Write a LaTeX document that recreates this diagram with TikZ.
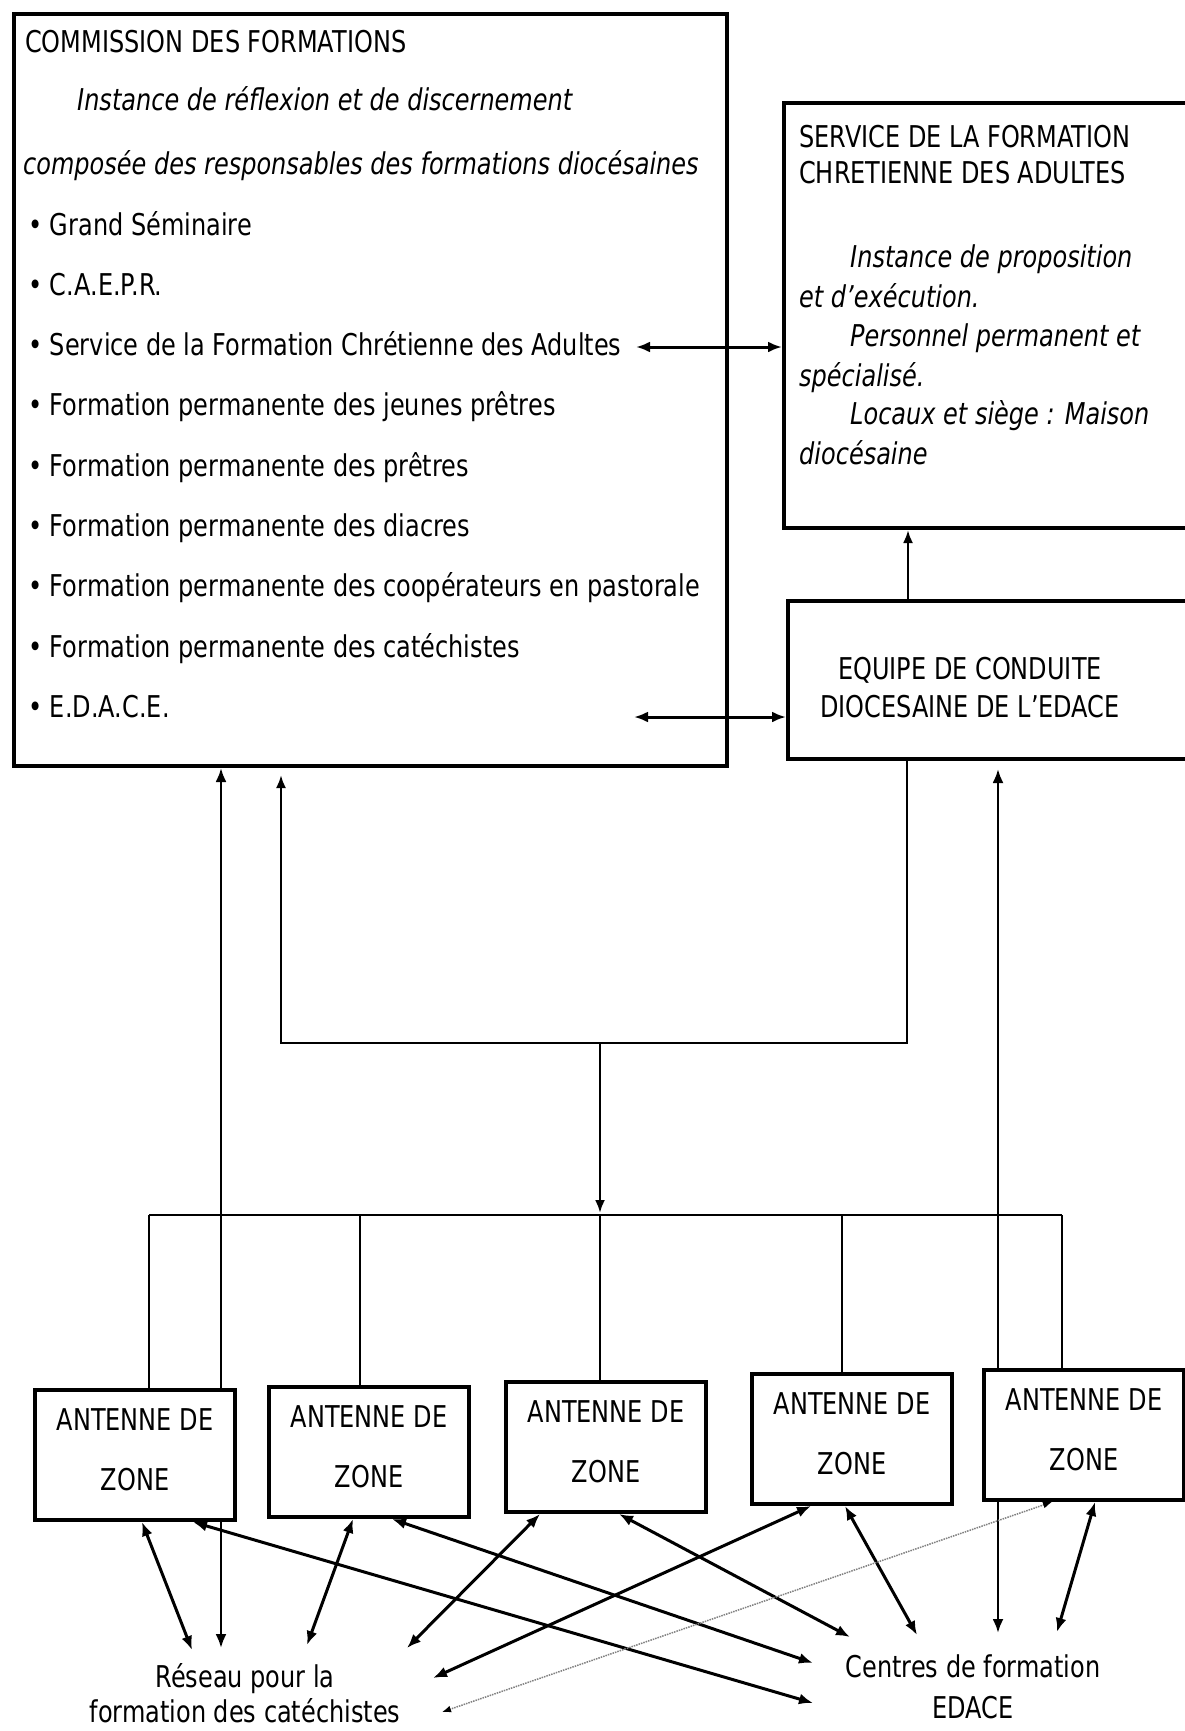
\documentclass[tikz,border=0pt]{standalone}
\usepackage{fontspec}
\setmainfont{DejaVu Sans}[FakeStretch=0.80]
\usetikzlibrary{arrows.meta,positioning,backgrounds}

\newcommand\fsz{\fontsize{30}{36}\selectfont}

\tikzset{
  box/.style={draw, line width=4pt, fill=white, anchor=north west, inner sep=0pt},
  zbox/.style={box, minimum width=200pt, minimum height=130pt, align=center,
    font=\fontsize{30}{60}\selectfont, text depth=11pt},
  txt/.style={anchor=base west, inner sep=0pt, font=\fsz},
  itxt/.style={txt, font=\fsz\itshape},
  lnk/.style={line width=2.5pt},
  dlnk/.style={line width=3pt},
  arr/.style={-{Latex[length=13pt,width=10pt]}},
  darr/.style={{Latex[length=14pt,width=11pt]}-{Latex[length=14pt,width=11pt]}},
}

\begin{document}
\begin{tikzpicture}[x=1pt,y=-1pt]
\useasboundingbox (0,0) rectangle (1185,1731);

% boxes
\node[box, minimum width=713pt, minimum height=752pt] (cf) at (12,12) {};
\node[box, minimum width=409pt, minimum height=425pt] (sfca) at (782,101) {};
\node[box, minimum width=405pt, minimum height=158pt] (eq) at (786,599) {};

\node[zbox] (a1) at (33,1388) {ANTENNE DE\\ZONE};
\node[zbox] (a2) at (267,1385) {ANTENNE DE\\ZONE};
\node[zbox] (a3) at (504,1380) {ANTENNE DE\\ZONE};
\node[zbox] (a4) at (750,1372) {ANTENNE DE\\ZONE};
\node[zbox] (a5) at (982,1368) {ANTENNE DE\\ZONE};

% commission
\node[txt] (cft) at (25,53) {COMMISSION DES FORMATIONS};
\node[itxt] (ci1) at (77,111) {Instance de réflexion et de discernement};
\node[itxt] (ci2) at (23,175) {composée des responsables des formations diocésaines};
\foreach \t [count=\i from 0] in {Grand Séminaire, C.A.E.P.R.,
    Service de la Formation Chrétienne des Adultes,
    Formation permanente des jeunes prêtres,
    Formation permanente des prêtres,
    Formation permanente des diacres,
    Formation permanente des coopérateurs en pastorale,
    Formation permanente des catéchistes, E.D.A.C.E.}
  \node[txt] (it\i) at (28,{235+60.3*\i}) {\textbullet\ \t};

% service
\node[txt] (s1) at (799,148) {SERVICE DE LA FORMATION};
\node[txt] (s2) at (799,183) {CHRETIENNE DES ADULTES};
\node[itxt] (s3) at (850,267) {Instance de proposition};
\node[itxt] (s4) at (799,307) {et d'exécution.};
\node[itxt] (s5) at (850,346) {Personnel permanent et};
\node[itxt] (s6) at (799,386) {spécialisé.};
\node[itxt] (s7) at (850,424) {Locaux et siège : Maison};
\node[itxt] (s8) at (799,464) {diocésaine};

\node[align=center, inner sep=0pt, font=\fontsize{30}{38}\selectfont] (eqt) at (970,688)
  {EQUIPE DE CONDUITE\\DIOCESAINE DE L'EDACE};

% bottom labels
\node[align=center, inner sep=0pt, font=\fontsize{30}{35}\selectfont] (res) at (245,1693)
  {Réseau pour la\\formation des catéchistes};
\node[align=center, inner sep=0pt, font=\fontsize{30}{41}\selectfont] (cen) at (973,1687)
  {Centres de formation\\EDACE};

\coordinate (r0) at (221,1648);
\coordinate (r1) at (192,1650);
\coordinate (r2) at (307,1645);
\coordinate (r3) at (407,1648);
\coordinate (r4) at (433,1678);
\coordinate (r5) at (442,1712);
\coordinate (c0) at (998,1633);
\coordinate (c1) at (813,1703);
\coordinate (c2) at (813,1663);
\coordinate (c3) at (850,1637);
\coordinate (c4) at (917,1635);
\coordinate (c5) at (1057,1632);

% links
\coordinate (sx) at (636,347);
\coordinate (ex) at (634,717);
\draw[dlnk,darr] (sx) -- (sx -| sfca.west);
\draw[dlnk,darr] (ex) -- (ex -| eq.west);
\draw[lnk,arr] (908,0 |- eq.north) -- (908,0 |- sfca.south);

\coordinate (jn) at (600,1043);
\coordinate (bl) at (149,1215);
\coordinate (br) at (1062,1215);
\draw[lnk,arr,shorten >=7pt] (907,0 |- eq.south) -- (907,1043) -- (281,1043) -- (281,0 |- cf.south);
\draw[lnk,arr,shorten >=2pt] (jn) -- (jn |- bl);

\begin{scope}[on background layer]
\draw[lnk] (bl) -- (br);
\foreach \n/\x in {a1/149,a2/360,a3/600,a4/842,a5/1062}
  \draw[lnk] (\x,1215) -- (\x,0 |- \n.north);
\draw[lnk,darr] (r0 |- cf.south) -- (r0);
\draw[lnk,darr,shorten <=8pt] (c0 |- eq.south) -- (c0);
\end{scope}

\draw[dlnk,darr] ([xshift=7pt]a1.south) -- (r1);
\draw[dlnk,darr] ([xshift=58pt]a1.south) -- (c1);
\draw[dlnk,darr] ([xshift=-16pt]a2.south) -- (r2);
\draw[dlnk,darr] ([xshift=23pt]a2.south) -- (c2);
\draw[dlnk,darr] ([xshift=-66pt]a3.south) -- (r3);
\draw[dlnk,darr] ([xshift=13pt]a3.south) -- (c3);
\draw[dlnk,darr] ([xshift=-41pt]a4.south) -- (r4);
\draw[dlnk,darr] ([xshift=-7pt]a4.south) -- (c4);
\draw[gray, line width=1.5pt, densely dotted,
  {Latex[length=9pt,width=7pt,black]}-{Latex[length=9pt,width=7pt,black]}]
  ([xshift=-32pt]a5.south) -- (r5);
\draw[dlnk,darr] ([xshift=11pt]a5.south) -- (c5);
\end{tikzpicture}
\end{document}
